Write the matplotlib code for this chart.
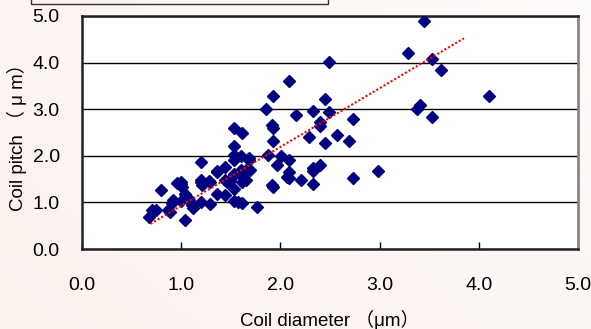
"""Coil pitch vs coil diameter scatter with linear trend line."""
import matplotlib
matplotlib.use("Agg")
import matplotlib.pyplot as plt
import numpy as np
from matplotlib.patches import Rectangle

# ---- data (um) ----
diameter = [0.68, 0.71, 0.75, 0.80, 0.87, 0.89, 0.91, 0.92, 0.96, 1.00,
            1.00, 1.01, 1.00, 1.04, 1.04, 1.06, 1.08, 1.11, 1.12, 1.20,
            1.20, 1.20, 1.21, 1.20, 1.28, 1.29, 1.29, 1.36, 1.36, 1.36,
            1.44, 1.44, 1.44, 1.46, 1.49, 1.53, 1.53, 1.53, 1.53, 1.53,
            1.53, 1.53, 1.53, 1.57, 1.61, 1.60, 1.61, 1.60, 1.61, 1.61,
            1.65, 1.65, 1.68, 1.69, 1.68, 1.76, 1.85, 1.88, 1.92, 1.93,
            1.93, 1.93, 1.92, 1.93, 1.97, 2.01, 2.09, 2.09, 2.09, 2.09,
            2.07, 2.16, 2.21, 2.29, 2.33, 2.33, 2.33, 2.33, 2.40, 2.40,
            2.40, 2.45, 2.45, 2.49, 2.49, 2.57, 2.69, 2.73, 2.73, 2.98,
            3.29, 3.38, 3.41, 3.45, 3.53, 3.53, 3.62, 4.10]
pitch = [0.69, 0.84, 0.84, 1.27, 0.84, 0.80, 0.98, 1.05, 1.41, 1.44,
         1.40, 1.34, 1.02, 1.19, 0.62, 1.12, 1.05, 0.94, 0.87, 1.87,
         1.49, 1.44, 1.37, 1.00, 1.46, 1.44, 0.96, 1.68, 1.66, 1.19,
         1.77, 1.48, 1.16, 1.44, 1.46, 2.59, 2.20, 2.02, 1.91, 1.61,
         1.28, 1.02, 1.59, 1.00, 2.48, 2.00, 1.57, 1.70, 1.44, 0.98,
         1.70, 1.48, 1.95, 1.70, 1.91, 0.91, 3.00, 2.02, 2.66, 3.28,
         2.60, 2.32, 1.37, 1.33, 1.80, 2.00, 3.60, 1.91, 1.66, 1.52,
         1.55, 2.88, 1.47, 2.41, 2.96, 1.73, 1.68, 1.39, 2.73, 2.64,
         1.80, 3.21, 2.27, 4.01, 2.94, 2.45, 2.32, 2.80, 1.52, 1.68,
         4.21, 3.00, 3.09, 4.90, 4.08, 2.84, 3.85, 3.28]

# trend line as drawn in the source (slope, intercept, x extent)
trend_slope = 1.26
trend_intercept = -0.33
trend_x = [0.69, 3.85]

ticks = [0.0, 1.0, 2.0, 3.0, 4.0, 5.0]
tick_labels = ["0.0", "1.0", "2.0", "3.0", "4.0", "5.0"]

FONT = ["Liberation Sans", "Noto Sans CJK JP", "DejaVu Sans"]
plt.rcParams["font.family"] = FONT

fig = plt.figure(figsize=(5.91, 3.29), dpi=100)

# faint pink page gradient
bg = fig.add_axes([0, 0, 1, 1], zorder=-10)
gx, gy = np.meshgrid(np.linspace(0, 1, 64), np.linspace(0, 1, 64))
g = np.clip(1 - 0.6 * gx - 0.4 * gy, 0, 1)
c0 = np.array([0.995, 0.985, 0.98])
c1 = np.array([0.985, 0.945, 0.93])
img = c0[None, None, :] * (1 - g[..., None]) + c1[None, None, :] * g[..., None]
bg.imshow(img, extent=[0, 1, 0, 1], aspect="auto", origin="lower")
bg.axis("off")

# partly visible box at the top
fig.patches.append(Rectangle((31 / 591, 1 - 4 / 329), 297 / 591, 0.1,
                             transform=fig.transFigure, fill=False,
                             edgecolor="#333333", lw=1.0))

ax = fig.add_axes([82 / 591, 80 / 329, 496 / 591, 233 / 329])
ax.set_facecolor("white")

ax.plot(diameter, pitch, linestyle="none", marker="D", markersize=5.8,
        color="#000080", zorder=3)
tx = np.array(trend_x)
ax.plot(tx, trend_slope * tx + trend_intercept, color="#ff0000", lw=1.5,
        linestyle=(0, (1, 1)), zorder=4)

ax.set_xlim(0, 5)
ax.set_ylim(0, 5)
ax.set_xticks(ticks)
ax.set_xticklabels(tick_labels, fontsize=14)
ax.set_yticks(ticks)
ax.set_yticklabels(tick_labels, fontsize=14)
ax.tick_params(axis="x", direction="in", length=5, width=1, pad=20)
ax.tick_params(axis="y", length=0, pad=16)
ax.yaxis.grid(True, color="black", lw=1)
ax.set_axisbelow(True)

for side in ("left", "bottom", "top"):
    ax.spines[side].set_color("#222222")
    ax.spines[side].set_linewidth(1.8)
ax.spines["right"].set_color("#888888")
ax.spines["right"].set_linewidth(2)

ax.set_xlabel("Coil diameter （μm）", fontsize=13.5, labelpad=12)
ax.set_ylabel("Coil pitch （ μ m）", fontsize=13.5, labelpad=4)

fig.savefig("out.png", dpi=100)
